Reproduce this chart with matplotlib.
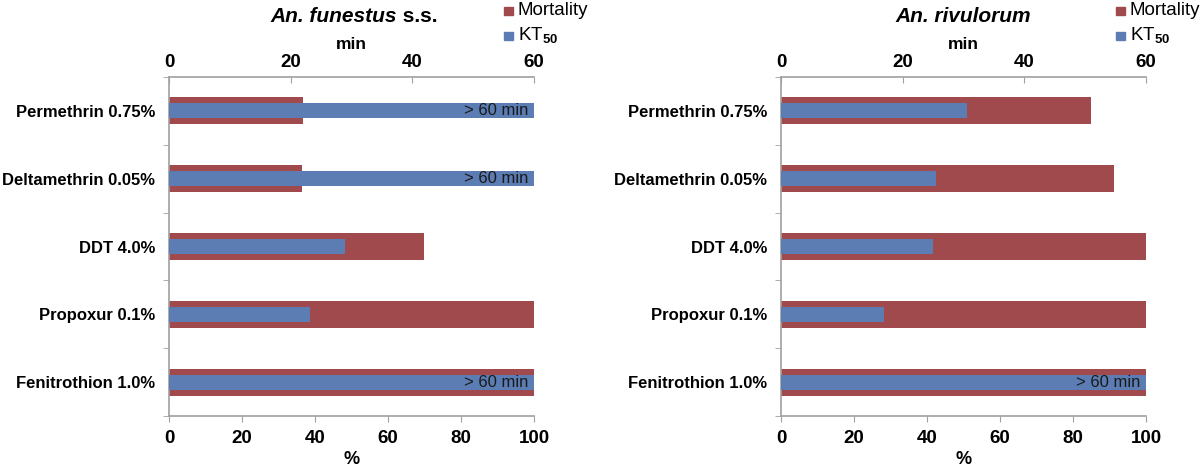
import matplotlib.pyplot as plt
from matplotlib.patches import Rectangle
import numpy as np

plt.rcParams['font.family'] = ['Liberation Sans', 'DejaVu Sans']
plt.rcParams['mathtext.fontset'] = 'custom'
plt.rcParams['mathtext.rm'] = 'Liberation Sans'
plt.rcParams['mathtext.bf'] = 'Liberation Sans:bold'

### DATA ###
insecticides = ["Permethrin 0.75%", "Deltamethrin 0.05%", "DDT 4.0%", "Propoxur 0.1%", "Fenitrothion 1.0%"]

funestus_mortality = [36.8, 36.4, 70.0, 100.0, 100.0]   # %
funestus_kt50 = [60.0, 60.0, 29.0, 23.2, 60.0]          # min (60 = > 60 min)
funestus_over60 = [True, True, False, False, True]

rivulorum_mortality = [84.8, 91.3, 100.0, 100.0, 100.0]
rivulorum_kt50 = [30.5, 25.5, 25.0, 17.0, 60.0]
rivulorum_over60 = [False, False, False, False, True]

RED = "#A04A4E"
BLUE = "#5B7DB3"
GREY = "#A0A0A0"

fig = plt.figure(figsize=(12, 4.72), dpi=100)


def panel(rect, mort, kt, over60, legend_x):
    ax = fig.add_axes(rect)
    y = np.arange(len(insecticides))
    ax.barh(y, mort, height=0.40, color=RED, zorder=2)
    ax.set_xlim(0, 100)
    ax.set_ylim(len(insecticides) - 0.5, -0.5)
    ax.set_xticks([0, 20, 40, 60, 80, 100])
    ax.set_yticks(y)
    ax.set_yticklabels(insecticides, fontsize=12, fontweight="bold")
    ax.set_yticks(np.arange(len(insecticides) + 1) - 0.5, minor=True)
    ax.tick_params(axis="y", which="major", length=0, pad=10)
    ax.tick_params(axis="y", which="minor", length=4, color=GREY)
    ax.tick_params(axis="x", length=4, color=GREY, labelsize=13.5, pad=6)
    for lab in ax.get_xticklabels():
        lab.set_fontweight("bold")
    ax.set_xlabel("%", fontsize=13, fontweight="bold", labelpad=3)
    for s in ["top", "right"]:
        ax.spines[s].set_visible(False)
    for s in ["left", "bottom"]:
        ax.spines[s].set_color(GREY)
        ax.spines[s].set_linewidth(1.2)

    ax2 = ax.twiny()
    ax2.barh(y, kt, height=0.22, color=BLUE, zorder=3)
    ax2.set_xlim(0, 60)
    ax2.set_xticks([0, 20, 40, 60])
    ax2.tick_params(axis="x", direction="in", length=4, color=GREY, labelsize=13.5, pad=4)
    for lab in ax2.get_xticklabels():
        lab.set_fontweight("bold")
    ax2.set_xlabel("min", fontsize=12.5, fontweight="bold", labelpad=4)
    for s in ["bottom", "right", "left"]:
        ax2.spines[s].set_visible(False)
    ax2.spines["top"].set_color(GREY)
    ax2.spines["top"].set_linewidth(1.2)
    for i, flag in enumerate(over60):
        if flag:
            ax2.text(59, y[i], "> 60 min", ha="right", va="center", fontsize=12, color="#1a1a1a", zorder=4)

    # legend: squares + labels at top right
    for yy, col, lab in [(0.977, RED, "Mortality"), (0.924, BLUE, "KT$_{\\mathbf{50}}$")]:
        fig.patches.append(Rectangle((legend_x, yy - 0.0085), 0.0075, 0.017, color=col,
                                     transform=fig.transFigure, figure=fig))
        fig.text(legend_x + 0.0115, yy, lab, fontsize=13.5, va="center")
    return ax


ax_l = panel([0.1408, 0.1186, 0.3042, 0.7183], funestus_mortality, funestus_kt50, funestus_over60, 0.42)
ax_r = panel([0.6508, 0.1186, 0.3042, 0.7183], rivulorum_mortality, rivulorum_kt50, rivulorum_over60, 0.93)

# title with italic species name followed by upright "s.s."
fig.canvas.draw()
t1 = fig.text(0.225, 0.966, "An. funestus", ha="left", va="center",
              fontsize=15, fontweight="bold", style="italic")
bb = t1.get_window_extent(fig.canvas.get_renderer())
fig.text(bb.x1 / fig.bbox.width, 0.966, " s.s.", ha="left", va="center",
         fontsize=15, fontweight="bold")
fig.text(0.803, 0.966, "An. rivulorum", ha="center", va="center",
         fontsize=15, fontweight="bold", style="italic")

fig.savefig("out.png", dpi=100)
